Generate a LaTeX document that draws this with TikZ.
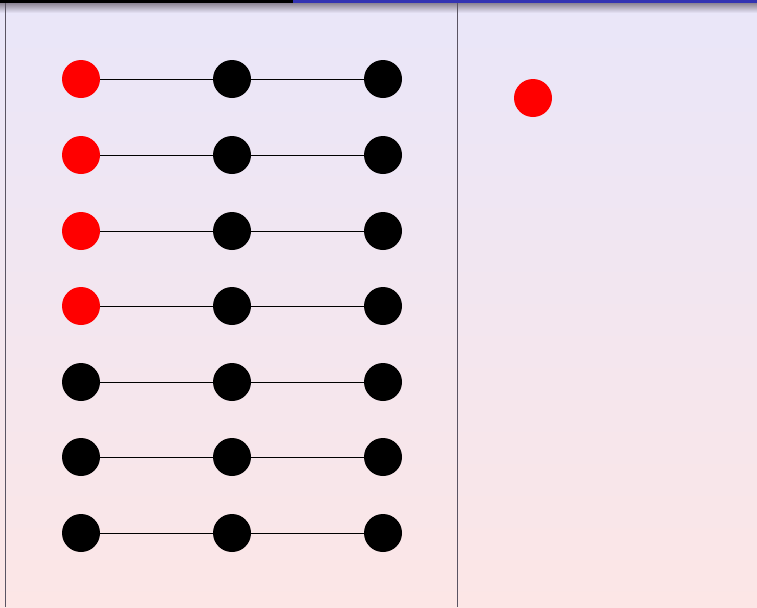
\documentclass[tikz,border=0pt]{standalone}
\usetikzlibrary{positioning}
\definecolor{lavender}{HTML}{E9E6F9}
\definecolor{rosy}{HTML}{FCE6E6}
\definecolor{barblue}{HTML}{3333B2}
\definecolor{rulegray}{HTML}{5A5463}
\definecolor{shadegray}{HTML}{8C8494}
\begin{document}
\begin{tikzpicture}[
  x={(0.03cm,0)}, y={(0,-0.03cm)},
  dot/.style={circle, fill=black, minimum size=1.14cm, inner sep=0pt},
  hotdot/.style={dot, fill=red},
  link/.style={black, line width=0.6pt}
]
\useasboundingbox (0,0) rectangle (757,607);
% background
\shade[top color=lavender, bottom color=rosy] (0,0) rectangle (757,607);
\shade[top color=shadegray, bottom color=lavender] (0,3) rectangle (757,13);
\fill[black] (0,0) rectangle (293,3);
\fill[barblue] (293,0) rectangle (757,3);
% column rules
\coordinate (ltop) at (5,3);
\coordinate (lbot) at (5,607);
\coordinate (mtop) at (457,3);
\coordinate (mbot) at (457,607);
\draw[rulegray, line width=0.8pt] (ltop) -- (lbot);
\draw[rulegray, line width=0.8pt] (mtop) -- (mbot);

% chains
\foreach \r/\y/\s in {1/79/hotdot, 2/155/hotdot, 3/231/hotdot, 4/306/hotdot,
                       5/382/dot, 6/457/dot, 7/533/dot} {
  \node[\s] (a\r) at (81,\y) {};
  \node[dot] (b\r) at (232,\y) {};
  \node[dot] (c\r) at (383,\y) {};
  \draw[link] (a\r) -- (b\r);
  \draw[link] (b\r) -- (c\r);
}

\node[hotdot] (single) at (533,98) {};
\end{tikzpicture}
\end{document}
